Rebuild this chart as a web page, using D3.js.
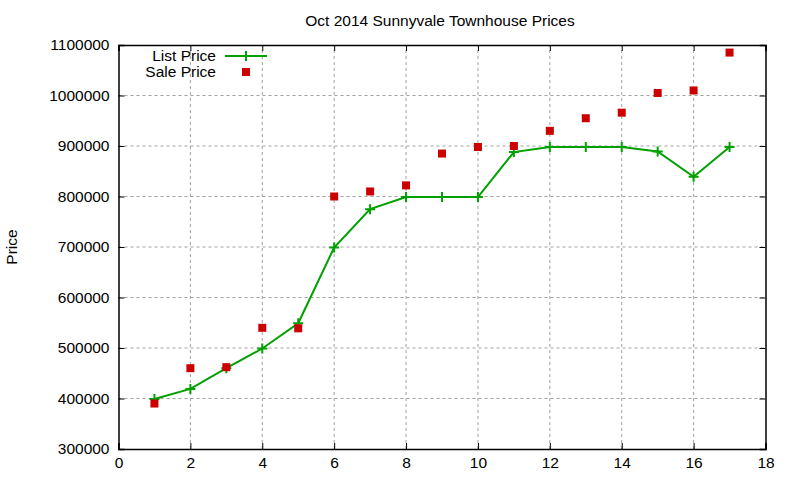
<!DOCTYPE html>
<html>
<head>
<meta charset="utf-8">
<script src="https://cdn.jsdelivr.net/npm/d3@7"></script>
<style>
  body { margin: 0; background: #fff; }
  text { font-family: "Liberation Sans", Arial, sans-serif; fill: #000; }
</style>
</head>
<body>
<div id="chart"></div>
<script>
const houses = [1, 2, 3, 4, 5, 6, 7, 8, 9, 10, 11, 12, 13, 14, 15, 16, 17];
const listPrice = [399000, 419000, 460000, 499000, 549000, 699000, 775000, 799000, 799000, 799000, 888000, 898000, 898000, 898000, 889000, 839000, 898000];
const salePrice = [390000, 460000, 462000, 540000, 539000, 800000, 810000, 822000, 885000, 898000, 900000, 930000, 955000, 966000, 1005000, 1010000, 1085000];
const xTicks = [0, 2, 4, 6, 8, 10, 12, 14, 16, 18];
const yTicks = [300000, 400000, 500000, 600000, 700000, 800000, 900000, 1000000, 1100000];

const width = 800;
const height = 480;
const margin = {left: 118.5, right: 34.5, top: 45, bottom: 31};

const svg = d3.select("#chart")
  .append("svg")
  .attr("width", width)
  .attr("height", height);

const x = d3.scaleLinear().domain([0, 18]).range([margin.left, width - margin.right]);
const y = d3.scaleLinear().domain([300000, 1100000]).range([height - margin.bottom, margin.top]);

// grid
svg.append("g")
  .selectAll("line")
  .data(xTicks.slice(1, -1))
  .enter()
  .append("line")
  .attr("x1", d => x(d)).attr("x2", d => x(d))
  .attr("y1", y(300000)).attr("y2", y(1100000))
  .attr("stroke", "#a0a0a0")
  .attr("stroke-dasharray", "3,3");

svg.append("g")
  .selectAll("line")
  .data(yTicks.slice(1, -1))
  .enter()
  .append("line")
  .attr("x1", x(0)).attr("x2", x(18))
  .attr("y1", d => y(d)).attr("y2", d => y(d))
  .attr("stroke", "#a0a0a0")
  .attr("stroke-dasharray", "3,3");

// axes, ticks pointing inward, mirrored
const fontSize = "15.5px";
svg.append("g")
  .attr("transform", `translate(0,${y(300000)})`)
  .call(d3.axisBottom(x).tickValues(xTicks).tickSize(-6).tickPadding(8))
  .call(g => g.selectAll("text").style("font-size", fontSize).attr("dy", "0.71em"));

svg.append("g")
  .attr("transform", `translate(0,${y(1100000)})`)
  .call(d3.axisTop(x).tickValues(xTicks).tickSize(-6).tickFormat(""));

svg.append("g")
  .attr("transform", `translate(${x(0)},0)`)
  .call(d3.axisLeft(y).tickValues(yTicks).tickSize(-6).tickPadding(9).tickFormat(d3.format("d")))
  .call(g => g.selectAll("text").style("font-size", fontSize));

svg.append("g")
  .attr("transform", `translate(${x(18)},0)`)
  .call(d3.axisRight(y).tickValues(yTicks).tickSize(-6).tickFormat(""));

svg.selectAll(".domain").attr("stroke", "#000").attr("stroke-width", 1.5);
svg.selectAll(".tick line").attr("stroke", "#000");

// title and y label
svg.append("text")
  .attr("x", 440)
  .attr("y", 26)
  .attr("text-anchor", "middle")
  .style("font-size", "15.5px")
  .text("Oct 2014 Sunnyvale Townhouse Prices");

svg.append("text")
  .attr("transform", "translate(17,247) rotate(-90)")
  .attr("text-anchor", "middle")
  .style("font-size", fontSize)
  .text("Price");

// list price line
const listData = houses.map((h, i) => ({x: h, y: listPrice[i]}));
const saleData = houses.map((h, i) => ({x: h, y: salePrice[i]}));

const green = "#00a000";
const red = "#cc0000";

svg.append("path")
  .datum(listData)
  .attr("fill", "none")
  .attr("stroke", green)
  .attr("stroke-width", 2)
  .attr("d", d3.line().x(d => x(d.x)).y(d => y(d.y)));

svg.selectAll(".plus")
  .data(listData)
  .enter()
  .append("path")
  .attr("class", "plus")
  .attr("d", "M-5,0H5M0,-5V5")
  .attr("transform", d => `translate(${x(d.x)},${y(d.y)})`)
  .attr("stroke", green)
  .attr("stroke-width", 2);

svg.selectAll(".sale")
  .data(saleData)
  .enter()
  .append("rect")
  .attr("class", "sale")
  .attr("x", d => x(d.x) - 4)
  .attr("y", d => y(d.y) - 4)
  .attr("width", 8)
  .attr("height", 8)
  .attr("fill", red);

// legend
const legend = svg.append("g");
legend.append("text")
  .attr("x", 216).attr("y", 61)
  .attr("text-anchor", "end")
  .style("font-size", fontSize)
  .text("List Price");
legend.append("line")
  .attr("x1", 225).attr("x2", 267)
  .attr("y1", 56).attr("y2", 56)
  .attr("stroke", green).attr("stroke-width", 2);
legend.append("path")
  .attr("d", "M-5,0H5M0,-5V5")
  .attr("transform", "translate(246,56)")
  .attr("stroke", green).attr("stroke-width", 2);
legend.append("text")
  .attr("x", 216).attr("y", 77)
  .attr("text-anchor", "end")
  .style("font-size", fontSize)
  .text("Sale Price");
legend.append("rect")
  .attr("x", 242).attr("y", 68)
  .attr("width", 8).attr("height", 8)
  .attr("fill", red);
</script>
</body>
</html>
